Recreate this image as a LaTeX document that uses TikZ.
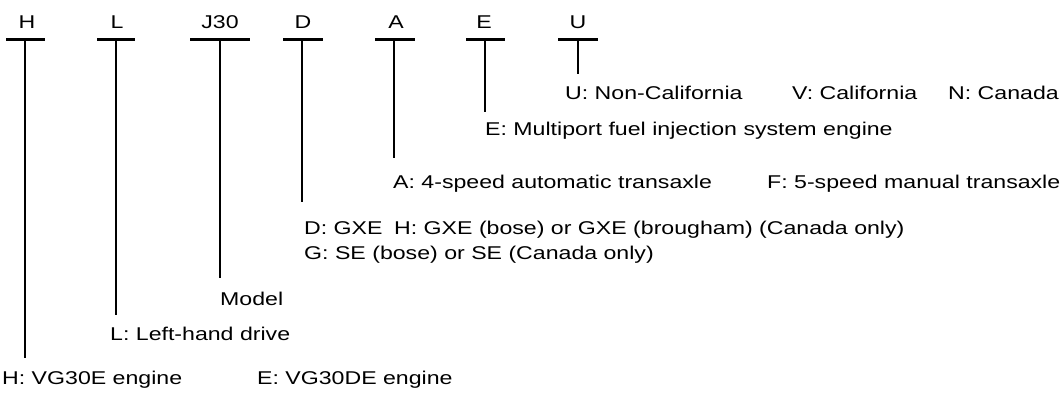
\documentclass[tikz,border=0pt]{standalone}
\usepackage{fontspec}
\setmainfont{Liberation Sans}[FakeStretch=1.25]
\begin{document}
\begin{tikzpicture}[x=1pt,y=-1pt,
  txt/.style={font=\fontsize{18.5}{20}\selectfont, inner sep=0pt, anchor=base west},
  code/.style={font=\fontsize{18.5}{20}\selectfont, inner sep=0pt, anchor=base},
  bar/.style={line width=3pt},
  stem/.style={line width=1.6pt}]
\useasboundingbox (0,0) rectangle (1063,394);
% code letters
\node[code] (cH) at (27,28.5) {H};
\node[code] (cL) at (117,28.5) {L};
\node[code] (cJ) at (220,28.5) {J30};
\node[code] (cD) at (303,28.5) {D};
\node[code] (cA) at (396,28.5) {A};
\node[code] (cE) at (484,28.5) {E};
\node[code] (cU) at (578,28.5) {U};
% bars
\coordinate (bH) at (25,39);  \draw[bar] (6,39) -- (45,39);
\coordinate (bL) at (116,39); \draw[bar] (97,39) -- (135,39);
\coordinate (bJ) at (220,39); \draw[bar] (190,39) -- (250,39);
\coordinate (bD) at (302,39); \draw[bar] (283,39) -- (323,39);
\coordinate (bA) at (394,39); \draw[bar] (375,39) -- (415,39);
\coordinate (bE) at (485,39); \draw[bar] (466,39) -- (505,39);
\coordinate (bU) at (578,39); \draw[bar] (558,39) -- (598,39);
% stem ends
\coordinate (eH) at (25,358);
\coordinate (eL) at (116,315);
\coordinate (eJ) at (220,278);
\coordinate (eD) at (302,202);
\coordinate (eA) at (394,158);
\coordinate (eE) at (485,112);
\coordinate (eU) at (578,74);
\foreach \k in {H,L,J,D,A,E,U} \draw[stem] (b\k) -- (e\k);
% descriptions
\node[txt] (tU1) at (565,99) {U: Non-California};
\node[txt] (tU2) at (792,99) {V: California};
\node[txt] (tU3) at (948,99) {N: Canada};
\node[txt] (tE) at (485,135) {E: Multiport fuel injection system engine};
\node[txt] (tA1) at (393,188) {A: 4-speed automatic transaxle};
\node[txt] (tA2) at (767,188) {F: 5-speed manual transaxle};
\node[txt] (tD1) at (304,234) {D: GXE};
\node[txt] (tD2) at (394,234) {H: GXE (bose) or GXE (brougham) (Canada only)};
\node[txt] (tG) at (304,259) {G: SE (bose) or SE (Canada only)};
\node[txt] (tJ) at (220,305) {Model};
\node[txt] (tL) at (110,340) {L: Left-hand drive};
\node[txt] (tH1) at (2,384) {H: VG30E engine};
\node[txt] (tH2) at (257,384) {E: VG30DE engine};
\end{tikzpicture}
\end{document}
